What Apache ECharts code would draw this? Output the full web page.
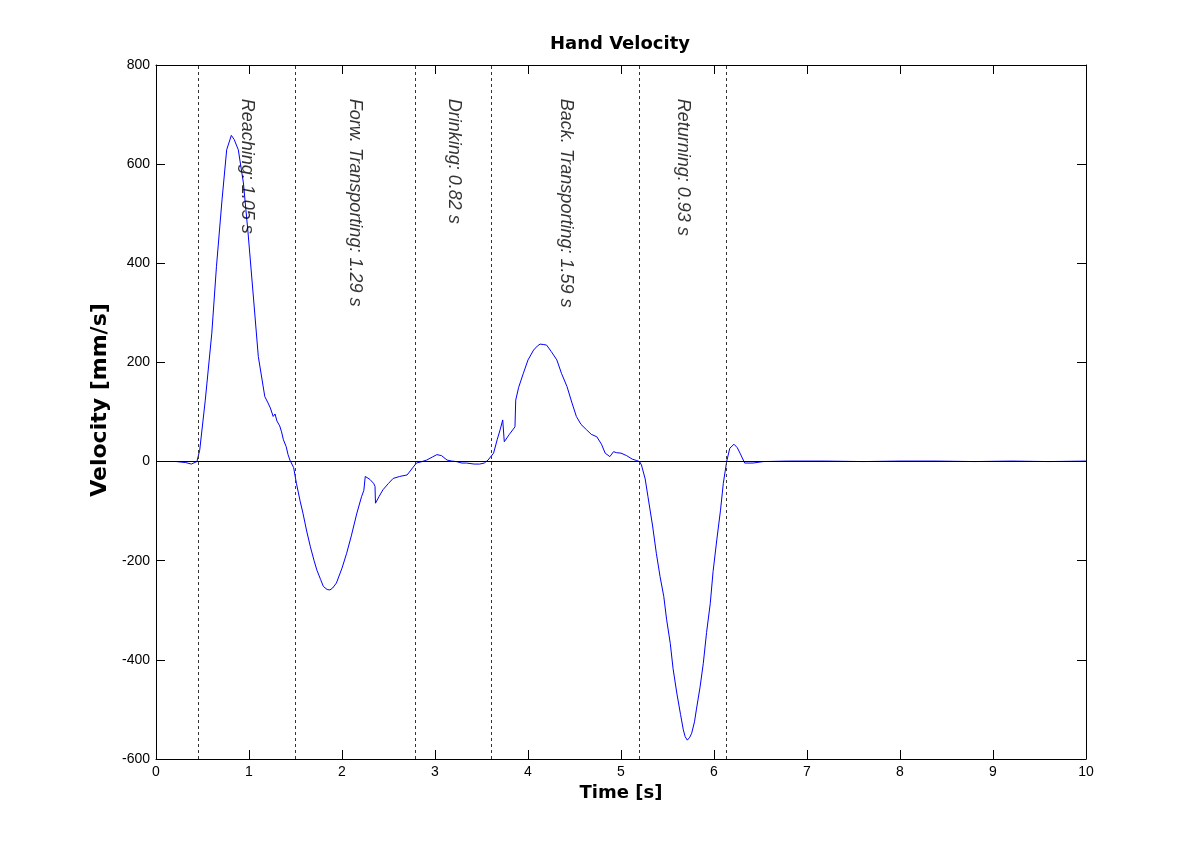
<!DOCTYPE html>
<html>
<head>
<meta charset="utf-8">
<title>Hand Velocity</title>
<script src="https://cdn.jsdelivr.net/npm/echarts@6/dist/echarts.min.js"></script>
<style>
html,body{margin:0;padding:0;background:#ffffff;}
#chart{width:1200px;height:853px;}
</style>
</head>
<body>
<div id="chart"></div>
<script>
// ---- data ----
const timeS = [
  0.22, 0.32, 0.38, 0.44, 0.47, 0.53, 0.60, 0.65, 0.71, 0.76, 0.81, 0.84, 0.885, 0.94, 0.99,
  1.05, 1.10, 1.17, 1.20, 1.23, 1.26, 1.28, 1.30, 1.315, 1.33, 1.35, 1.37, 1.40, 1.42, 1.44,
  1.48, 1.51, 1.55, 1.58, 1.62, 1.66, 1.70, 1.73, 1.77, 1.80, 1.84, 1.87, 1.90, 1.94,
  2.00, 2.05, 2.10, 2.16, 2.21, 2.235, 2.25, 2.30, 2.34, 2.355, 2.36, 2.40, 2.44, 2.50, 2.55,
  2.62, 2.70, 2.75, 2.80, 2.86, 2.91, 2.97, 3.02, 3.07, 3.13, 3.18, 3.23, 3.29, 3.34, 3.42,
  3.48, 3.53, 3.57, 3.63, 3.67, 3.70, 3.728, 3.745, 3.80, 3.86, 3.868, 3.90, 3.95, 4.00, 4.06,
  4.10, 4.13, 4.17, 4.20, 4.25, 4.31, 4.36, 4.42, 4.47, 4.52, 4.57, 4.63, 4.68, 4.74, 4.79,
  4.83, 4.88, 4.92, 4.95, 5.00, 5.06, 5.12, 5.17, 5.20, 5.22, 5.26, 5.29, 5.34, 5.38, 5.42,
  5.46, 5.49, 5.53, 5.56, 5.60, 5.64, 5.67, 5.69, 5.713, 5.74, 5.76, 5.79, 5.81, 5.85, 5.885,
  5.92, 5.96, 5.99, 6.03, 6.07, 6.10, 6.136, 6.17, 6.215, 6.25, 6.28, 6.33, 6.42, 6.53,
  6.8, 7.2, 7.6, 8.0, 8.4, 8.8, 9.2, 9.6, 10.0
];
const velocity = [
  0, -2, -5, 0, 23, 124, 259, 393, 528, 629, 658, 650, 629, 562, 461,
  326, 212, 131, 120, 108, 91, 96, 82, 84, 72, 60, 44, 30, 14, 3,
  -12, -44, -80, -104, -140, -172, -200, -219, -238, -252, -258, -259, -255, -245,
  -215, -185, -150, -104, -71, -58, -30, -36, -44, -50, -84, -70, -57, -44, -34,
  -30, -27, -15, -3, 0, 3, 9, 14, 12, 3, 1, 0, -3, -3, -5,
  -5, -3, 3, 17, 45, 64, 84, 40, 55, 70, 124, 150, 178, 205, 225,
  233, 237, 236, 235, 222, 205, 178, 151, 120, 91, 75, 64, 55, 50, 35,
  17, 10, 20, 18, 17, 12, 5, 2, 0, -7, -35, -71, -130, -185, -232,
  -272, -318, -367, -418, -467, -510, -541, -555, -562, -556, -548, -525, -501, -455, -407,
  -345, -286, -222, -158, -98, -44, 0, 27, 35, 28, 17, -3, -3, 0,
  1, 1, 0, 1, 1, 0, 1, 0, 1
];
const phaseBounds = [0.45, 1.50, 2.79, 3.61, 5.20, 6.13];
const phaseNames = ['Reaching', 'Forw. Transporting', 'Drinking', 'Back. Transporting', 'Returning'];
const phaseDurations = ['1.05', '1.29', '0.82', '1.59', '0.93'];
const labelLevel = 724;

// ---- build options ----
const curve = timeS.map((t, i) => [t, velocity[i]]);
const labelPoints = phaseNames.map((n, i) => ({
  value: [(phaseBounds[i] + phaseBounds[i + 1]) / 2, labelLevel],
  name: n + ': ' + phaseDurations[i] + ' s'
}));

const tickCommon = { show: true, inside: true, length: 9, lineStyle: { color: '#000', width: 1 } };
const lineCommon = { show: true, onZero: false, lineStyle: { color: '#000', width: 1 } };
const labelFont = { fontFamily: 'Liberation Sans, Arial, sans-serif', fontSize: 14, color: '#000' };

const chart = echarts.init(document.getElementById('chart'), null, { renderer: 'canvas' });
chart.setOption({
  animation: false,
  backgroundColor: '#ffffff',
  title: {
    text: 'Hand Velocity',
    left: 615, top: 30, textAlign: 'center',
    textStyle: { fontFamily: 'DejaVu Sans', fontWeight: 'bold', fontSize: 18, color: '#000' }
  },
  grid: { left: 156, right: 114, top: 65, bottom: 94, containLabel: false, show: false },
  xAxis: [{
    type: 'value', min: 0, max: 10, interval: 1, position: 'bottom',
    name: 'Time [s]', nameLocation: 'middle', nameGap: 24,
    nameTextStyle: { fontFamily: 'DejaVu Sans', fontWeight: 'bold', fontSize: 18, color: '#000' },
    axisLine: lineCommon, axisTick: tickCommon,
    axisLabel: Object.assign({ margin: 6 }, labelFont),
    splitLine: { show: false }
  }, {
    type: 'value', min: 0, max: 10, interval: 1, position: 'top',
    axisLine: lineCommon, axisTick: tickCommon, axisLabel: { show: false }, splitLine: { show: false }
  }],
  yAxis: [{
    type: 'value', min: -600, max: 800, interval: 200, position: 'left',
    name: 'Velocity [mm/s]', nameLocation: 'middle', nameGap: 44,
    nameTextStyle: { fontFamily: 'DejaVu Sans', fontWeight: 'bold', fontSize: 22, color: '#000', padding: [0, 0, 0, 24] },
    axisLine: lineCommon, axisTick: tickCommon,
    axisLabel: Object.assign({ margin: 6 }, labelFont),
    splitLine: { show: false }
  }, {
    type: 'value', min: -600, max: 800, interval: 200, position: 'right',
    axisLine: lineCommon, axisTick: tickCommon, axisLabel: { show: false }, splitLine: { show: false }
  }],
  series: [{
    type: 'line', name: 'guides', data: [], z: 1, silent: true,
    markLine: {
      silent: true, symbol: 'none', animation: false,
      label: { show: false },
      data: phaseBounds.map(b => ({ xAxis: b, lineStyle: { color: '#333', width: 1, type: [3, 3] } }))
        .concat([{ yAxis: 0, lineStyle: { color: '#000', width: 1, type: 'solid' } }])
    }
  }, {
    type: 'line', name: 'Hand velocity', data: curve, z: 3,
    showSymbol: false, symbol: 'none', smooth: false,
    lineStyle: { color: '#0000ff', width: 1 }
  }, {
    type: 'scatter', name: 'phases', data: labelPoints, z: 4, symbolSize: 0, silent: true,
    label: {
      show: true, position: 'inside', rotate: -90, align: 'left', verticalAlign: 'middle',
      offset: [-4, 0],
      formatter: p => p.name,
      fontFamily: 'Liberation Sans, Arial, sans-serif', fontStyle: 'italic', fontSize: 18, color: '#000'
    }
  }]
});
</script>
</body>
</html>
